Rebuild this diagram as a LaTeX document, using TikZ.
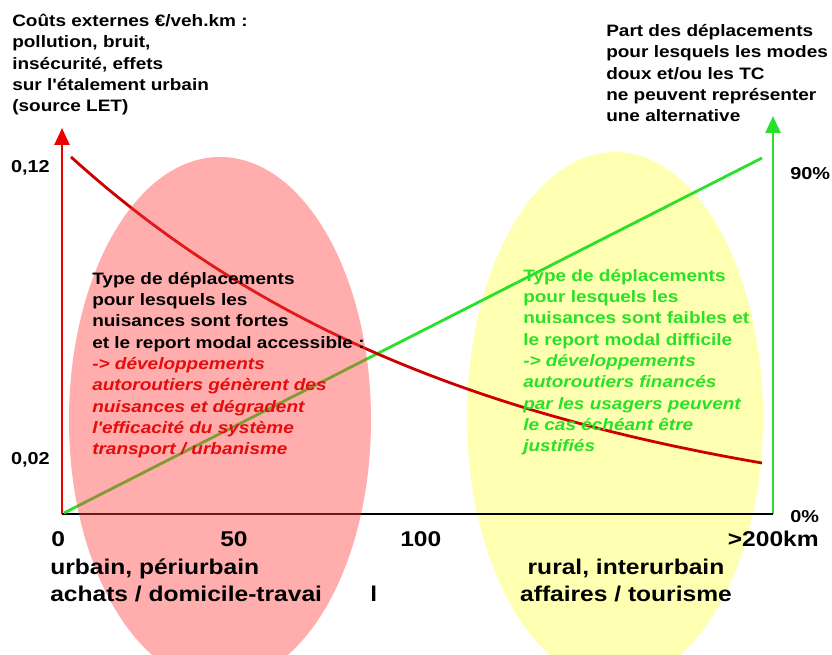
\documentclass[tikz,border=0pt]{standalone}
\usepackage{fontspec}
\setmainfont{Liberation Sans}[FakeStretch=1.15, Ligatures=TeXOff]
\usetikzlibrary{arrows.meta}
\definecolor{axerouge}{RGB}{235,0,0}
\definecolor{courberouge}{RGB}{205,0,0}
\definecolor{texterouge}{RGB}{228,12,12}
\definecolor{vertvif}{RGB}{40,225,40}
\definecolor{rosefond}{RGB}{255,60,60}
\definecolor{jaunefond}{RGB}{255,255,60}
\newcommand{\nuisit}[1]{\textcolor{texterouge}{\itshape #1}}
\tikzset{
	legende/.style={font=\bfseries\fontsize{11.75}{15.2}\selectfont, align=left, inner sep=0pt, anchor=base west},
	graduation/.style={font=\bfseries\fontsize{12.3}{15}\selectfont, inner sep=0pt},
	categorie/.style={font=\bfseries\fontsize{15.2}{19.9}\selectfont, align=left, inner sep=0pt, anchor=base west},
	pointe/.style={-{Triangle[length=12pt,width=10.5pt]}}
}

\begin{document}
\begin{tikzpicture}
	\useasboundingbox (-1.55,-3.525) rectangle (19.25,12.85);
	\fill[jaunefond, opacity=.4] (13.825,2.425) ellipse (3.7 and 6.625);
	% axes
	\coordinate (O) at (0,0);
	\coordinate (xfin) at (17.775,0);
	\coordinate (yrouge) at (0,9.65);
	\coordinate (yvert) at (17.775,9.95);
	\draw[color=axerouge, line width=2pt, pointe] (O) -- (yrouge);
	\draw[color=vertvif, line width=2pt, pointe] (xfin) -- (yvert);
	\draw[line width=2pt] (O) -- (xfin);
	% courbes
	\draw[color=vertvif, line width=2pt] (0.05,0.025) -- (17.5,8.9);
	\draw[color=courberouge, line width=2pt, domain=0.225:17.5, samples=80, smooth] plot (\x,{8.925-9.45*(1-exp(-0.096*(\x-0.225)))});
	\fill[rosefond, opacity=.42] (3.95,2.35) ellipse (3.775 and 6.575);
	% titres des axes (ancre = ligne du bas)
	\node[legende] (couts) at (-1.25,10.05) {Coûts externes €/veh.km :\\pollution, bruit,\\insécurité, effets\\sur l'étalement urbain\\(source LET)};
	\node[legende] (part) at (13.6,9.8) {Part des déplacements\\pour lesquels les modes\\doux et/ou les TC\\ne peuvent représenter\\une alternative};
	\node[graduation, anchor=base east] (valmax) at (-0.3,8.525) {0,12};
	\node[graduation, anchor=base east] (valmin) at (-0.3,1.225) {0,02};
	\node[graduation, anchor=base west] (pctmax) at (18.2,8.35) {90\%};
	\node[graduation, anchor=base west] (pctmin) at (18.2,-0.225) {0\%};
	% distances
	\node[categorie] (km0) at (-0.275,-0.825) {0};
	\node[categorie] (km50) at (3.95,-0.825) {50};
	\node[categorie] (km100) at (8.45,-0.825) {100};
	\node[categorie, anchor=base east] (km200) at (18.925,-0.825) {>200km};
	\node[categorie] (urbain) at (-0.3,-2.2) {urbain, périurbain\\achats / domicile-travai};
	\node[categorie] (lettre) at (7.7,-2.2) {l};
	\node[categorie, anchor=base, align=center] (rural) at (14.1,-2.2) {rural, interurbain\\affaires / tourisme};
	% textes des ellipses
	\node[legende] (typefort) at (0.75,1.475) {Type de déplacements\\pour lesquels les\\nuisances sont fortes\\et le report modal accessible :\\\nuisit{-> développements}\\\nuisit{autoroutiers génèrent des}\\\nuisit{nuisances et dégradent}\\\nuisit{l'efficacité du système}\\\nuisit{transport / urbanisme}};
	\node[legende, text=vertvif] (typefaible) at (11.525,1.55) {Type de déplacements\\pour lesquels les\\nuisances sont faibles et\\le report modal difficile\\\textit{-> développements}\\\textit{autoroutiers financés}\\\textit{par les usagers peuvent}\\\textit{le cas échéant être}\\\textit{justifiés}};
\end{tikzpicture}
\end{document}
